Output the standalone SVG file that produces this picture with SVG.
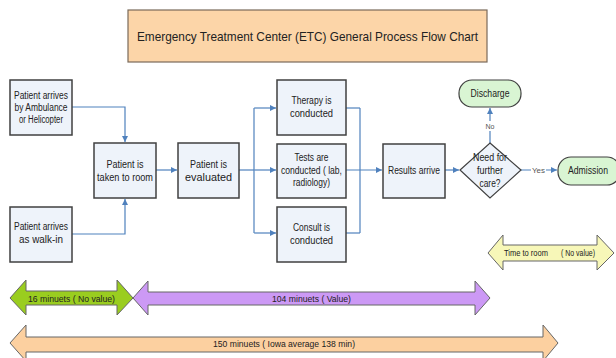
<svg xmlns="http://www.w3.org/2000/svg" width="616" height="358" viewBox="0 0 616 358">
<style>
text{font-family:"Liberation Sans",Arial,sans-serif;font-size:10px;fill:#222;}
.c{text-anchor:middle;}
.box{fill:#EEF3FA;stroke:#404040;stroke-width:1.5;}
.term{fill:#D9F5D3;stroke:#404040;stroke-width:1.2;}
.ln{fill:none;stroke:#4F81BD;stroke-width:1.2;}
.arr{stroke:#666;stroke-width:1;}
</style>
<defs>
<marker id="ah" viewBox="0 0 10 10" refX="10" refY="5" markerWidth="6" markerHeight="6" orient="auto" markerUnits="userSpaceOnUse">
<path d="M0,0 L10,5 L0,10 z" fill="#4F81BD"/>
</marker>
</defs>
<rect width="616" height="358" fill="#fff"/>
<g id="title">
<rect x="128" y="10" width="359" height="52" fill="#FCD5A8" stroke="#7a6a5a" stroke-width="1.2"/>
<text x="307.5" y="41" class="c" style="font-size:13.5px" textLength="341" lengthAdjust="spacingAndGlyphs">Emergency Treatment Center (ETC) General Process Flow Chart</text>
</g>
<g id="connectors">
<polyline class="ln" points="72,107 125,107 125,142" marker-end="url(#ah)"/>
<polyline class="ln" points="72,234 125,234 125,199" marker-end="url(#ah)"/>
<line class="ln" x1="156" y1="170" x2="177" y2="170" marker-end="url(#ah)"/>
<line class="ln" x1="239" y1="170" x2="254" y2="170"/>
<line class="ln" x1="254" y1="108" x2="254" y2="233"/>
<line class="ln" x1="254" y1="108" x2="276" y2="108" marker-end="url(#ah)"/>
<line class="ln" x1="254" y1="170" x2="276" y2="170" marker-end="url(#ah)"/>
<line class="ln" x1="254" y1="233" x2="276" y2="233" marker-end="url(#ah)"/>
<line class="ln" x1="346" y1="108" x2="360" y2="108"/>
<line class="ln" x1="346" y1="233" x2="360" y2="233"/>
<line class="ln" x1="360" y1="108" x2="360" y2="233"/>
<line class="ln" x1="346" y1="170" x2="382" y2="170" marker-end="url(#ah)"/>
<line class="ln" x1="445" y1="170" x2="459" y2="170" marker-end="url(#ah)"/>
<line class="ln" x1="490" y1="143" x2="490" y2="108" marker-end="url(#ah)"/>
<line class="ln" x1="521" y1="170" x2="557" y2="170" marker-end="url(#ah)"/>
<rect x="485" y="121" width="10" height="10" fill="#fff"/>
<text x="490" y="129" class="c" style="font-size:8px;fill:#555" textLength="9" lengthAdjust="spacingAndGlyphs">No</text>
<rect x="531" y="165" width="15" height="10" fill="#fff"/>
<text x="538.5" y="173" class="c" style="font-size:8px;fill:#555" textLength="13" lengthAdjust="spacingAndGlyphs">Yes</text>
</g>
<g id="arrive-ambulance">
<rect class="box" x="10" y="80" width="62" height="55"/>
<text x="41" y="99" class="c" textLength="54" lengthAdjust="spacingAndGlyphs">Patient arrives</text>
<text x="41" y="111" class="c" textLength="53" lengthAdjust="spacingAndGlyphs">by Ambulance</text>
<text x="41" y="123" class="c" textLength="44" lengthAdjust="spacingAndGlyphs">or Helicopter</text>
</g>
<g id="arrive-walkin">
<rect class="box" x="10" y="207" width="62" height="55"/>
<text x="41" y="230" class="c" textLength="54" lengthAdjust="spacingAndGlyphs">Patient arrives</text>
<text x="41" y="243" class="c" textLength="44" lengthAdjust="spacingAndGlyphs">as walk-in</text>
</g>
<g id="taken-room">
<rect class="box" x="94" y="143" width="62" height="55"/>
<text x="125" y="168" class="c" textLength="37" lengthAdjust="spacingAndGlyphs">Patient is</text>
<text x="125" y="181" class="c" textLength="56" lengthAdjust="spacingAndGlyphs">taken to room</text>
</g>
<g id="evaluated">
<rect class="box" x="178" y="143" width="61" height="55"/>
<text x="208.5" y="168" class="c" textLength="37" lengthAdjust="spacingAndGlyphs">Patient is</text>
<text x="208.5" y="181" class="c" textLength="47" lengthAdjust="spacingAndGlyphs">evaluated</text>
</g>
<g id="therapy">
<rect class="box" x="277" y="80" width="69" height="55"/>
<text x="311.5" y="104" class="c" textLength="40" lengthAdjust="spacingAndGlyphs">Therapy is</text>
<text x="311.5" y="117" class="c" textLength="43" lengthAdjust="spacingAndGlyphs">conducted</text>
</g>
<g id="tests">
<rect class="box" x="277" y="144" width="69" height="54"/>
<text x="311.5" y="161" class="c" textLength="34" lengthAdjust="spacingAndGlyphs">Tests are</text>
<text x="311.5" y="174" class="c" textLength="61" lengthAdjust="spacingAndGlyphs">conducted ( lab,</text>
<text x="311.5" y="186" class="c" textLength="37" lengthAdjust="spacingAndGlyphs">radiology)</text>
</g>
<g id="consult">
<rect class="box" x="277" y="207" width="69" height="55"/>
<text x="311.5" y="231" class="c" textLength="37" lengthAdjust="spacingAndGlyphs">Consult is</text>
<text x="311.5" y="244" class="c" textLength="43" lengthAdjust="spacingAndGlyphs">conducted</text>
</g>
<g id="results">
<rect class="box" x="383" y="144" width="62" height="54"/>
<text x="414" y="174" class="c" textLength="52" lengthAdjust="spacingAndGlyphs">Results arrive</text>
</g>
<g id="decision">
<polygon points="490,143 521,170 490,198 460,170" fill="#EEF3FA" stroke="#404040" stroke-width="1.2"/>
<text x="490" y="161" class="c" textLength="34" lengthAdjust="spacingAndGlyphs">Need for</text>
<text x="490" y="174" class="c" textLength="26" lengthAdjust="spacingAndGlyphs">further</text>
<text x="490" y="187" class="c" textLength="21" lengthAdjust="spacingAndGlyphs">care?</text>
</g>
<g id="discharge">
<rect class="term" x="459" y="80" width="62" height="27" rx="13" ry="13"/>
<text x="490" y="97" class="c" textLength="39" lengthAdjust="spacingAndGlyphs">Discharge</text>
</g>
<g id="admission">
<rect class="term" x="558" y="157" width="62" height="28" rx="13" ry="13"/>
<text x="588" y="174" class="c" textLength="40" lengthAdjust="spacingAndGlyphs">Admission</text>
</g>
<g id="time-to-room">
<polygon class="arr" fill="#F7F7B8" points="488,253 503,235 503,245 597,245 597,235 614,253 597,270 597,261 503,261 503,270"/>
<text x="504" y="256" style="font-size:9.5px" textLength="44" lengthAdjust="spacingAndGlyphs">Time to room</text>
<text x="561" y="256" style="font-size:9.5px" textLength="34" lengthAdjust="spacingAndGlyphs">( No value)</text>
</g>
<g id="no-value-16">
<polygon class="arr" fill="#9ACD1F" points="10,298 26,280 26,291 117,291 117,280 133,298 117,315 117,305 26,305 26,315"/>
<text x="28" y="301.5" style="font-size:9.5px" textLength="87" lengthAdjust="spacingAndGlyphs">16  minuets ( No value)</text>
</g>
<g id="value-104">
<polygon class="arr" fill="#CC99F5" points="133,298 148,281 148,292 475,292 475,281 490,298 475,315 475,305 148,305 148,315"/>
<text x="272" y="301.5" style="font-size:9.5px" textLength="79" lengthAdjust="spacingAndGlyphs">104 minuets  ( Value)</text>
</g>
<g id="total-150">
<polygon class="arr" fill="#FCD0A0" points="10,343 26,325 26,337 543,337 543,325 558,343 543,361 543,352 26,352 26,361"/>
<text x="213" y="347" style="font-size:9.5px" textLength="142" lengthAdjust="spacingAndGlyphs">150  minuets ( Iowa average 138 min)</text>
</g>
</svg>
